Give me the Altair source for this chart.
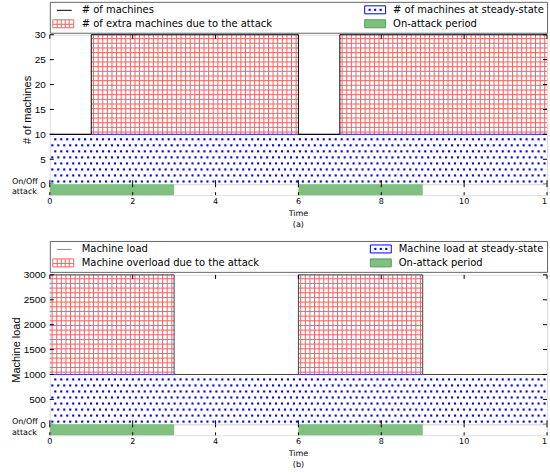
import altair as alt
import numpy as np
import pandas as pd

# ---------------- data ----------------
time_a = [0, 1, 6, 7, 12]
machines = [10, 30, 10, 30, 30]
machines_steady = 10
time_b = [0, 3, 6, 9, 12]
load = [3000, 1000, 3000, 1000, 1000]
load_steady = 1000
attack_start = [0, 6]
attack_end = [3, 9]
x_max = 12
x_ticks = [0, 2, 4, 6, 8, 10, 12]
y_max_a = 30
y_ticks_a = [0, 5, 10, 15, 20, 25, 30]
y_max_b = 3000
y_ticks_b = [0, 500, 1000, 1500, 2000, 2500, 3000]

legend_a = ["# of machines", "# of extra machines due to the attack",
            "# of machines at steady-state", "On-attack period"]
legend_b = ["Machine load", "Machine overload due to the attack",
            "Machine load at steady-state", "On-attack period"]
y_title_a = "# of machines"
y_title_b = "Machine load"
x_title = "Time"
sub_a = "(a)"
sub_b = "(b)"
strip_label = ["On/Off", "attack"]

# ---------------- style ----------------
FONT = "DejaVu Sans"
W, H, SH, LH, TH = 499, 150, 11, 31, 34
FS = 8
RED = "#f06262"
BLUE = "#0000ff"
GREEN = "#7fbf7f"


def xscale():
    return alt.Scale(domain=[0, x_max], nice=False, zero=False)


def main_panel(times, values, steady, y_max, y_ticks, y_title, title_x, line_color):
    xs = xscale()
    ys = alt.Scale(domain=[0, y_max], nice=False, zero=False)
    yaxis = alt.Axis(values=y_ticks, ticks=False, domain=False, grid=False, format="d",
                     labelPadding=4.5, labelFontWeight="normal",
                     titleFontWeight="normal", titleX=title_x, titleY=H / 2,
                     titleAngle=270, titleAlign="center", titleBaseline="middle")

    def X(f):
        return alt.X(f, type="quantitative", scale=xs, axis=None)

    def Y(f):
        return alt.Y(f, type="quantitative", scale=ys, axis=yaxis, title=y_title)

    # dotted hatch (style) below steady state
    rows = np.arange(steady * 0.054, steady, steady * 0.121)
    pts = []
    for i, ry in enumerate(rows):
        off = 0.06 + (i % 2) * 0.072
        for cx in np.arange(off, x_max, 0.144):
            pts.append((cx, ry))
    dots_df = pd.DataFrame(pts, columns=["dx", "dy"])

    # grid hatch (style) for the extra part
    vl, hl = [], []
    for t0, t1, v in zip(times[:-1], times[1:], values[:-1]):
        if v > steady:
            for cx in np.arange(t0 + 1 / 18, t1, 1 / 9):
                vl.append((cx, steady, v))
            for cy in np.arange(steady + y_max / 64, v, y_max / 32):
                hl.append((cy, t0, t1))
    vl_df = pd.DataFrame(vl, columns=["hx", "hy0", "hy1"])
    hl_df = pd.DataFrame(hl, columns=["vy", "vx0", "vx1"])

    series_df = pd.DataFrame({"t": times, "v": values})
    steady_df = pd.DataFrame({"s": [steady], "s0": [0], "s1": [x_max]})
    yt_df = pd.DataFrame({"tick": y_ticks})
    xt_df = pd.DataFrame({"xt": x_ticks})

    dots = alt.Chart(dots_df).mark_square(size=4.5, color=BLUE, opacity=1).encode(
        x=X("dx"), y=Y("dy"))
    hv = alt.Chart(vl_df).mark_rule(color=RED, strokeWidth=1).encode(
        x=X("hx"), y=Y("hy0"), y2="hy1")
    hh = alt.Chart(hl_df).mark_rule(color=RED, strokeWidth=1).encode(
        y=Y("vy"), x=X("vx0"), x2="vx1")
    sline = alt.Chart(steady_df).mark_rule(color="#4040ff", strokeWidth=1.2).encode(
        y=Y("s"), x=X("s0"), x2="s1")
    line = alt.Chart(series_df).mark_line(interpolate="step-after", color=line_color,
                                           strokeWidth=1).encode(x=X("t"), y=Y("v"))
    tl = alt.Chart(yt_df).mark_rule(color="black").encode(
        y=Y("tick"), x=alt.value(0), x2=alt.value(4))
    tr = alt.Chart(yt_df).mark_rule(color="black").encode(
        y=Y("tick"), x=alt.value(W - 4), x2=alt.value(W))
    tb = alt.Chart(xt_df).mark_rule(color="black").encode(
        x=X("xt"), y=alt.value(H - 4), y2=alt.value(H))
    tt = alt.Chart(xt_df).mark_rule(color="black").encode(
        x=X("xt"), y=alt.value(0), y2=alt.value(4))
    return alt.layer(dots, hv, hh, sline, line, tl, tr, tb, tt).properties(width=W, height=H)


def strip_panel():
    xs = xscale()
    att_df = pd.DataFrame({"a0": attack_start, "a1": attack_end})
    xt_df = pd.DataFrame({"xt": x_ticks})

    def X(f):
        return alt.X(f, type="quantitative", scale=xs, axis=None)

    bars = alt.Chart(att_df).mark_rect(color=GREEN).encode(
        x=X("a0"), x2="a1", y=alt.value(0), y2=alt.value(SH))
    tb = alt.Chart(xt_df).mark_rule(color="black").encode(
        x=X("xt"), y=alt.value(SH - 3), y2=alt.value(SH))
    tt = alt.Chart(xt_df).mark_rule(color="black").encode(
        x=X("xt"), y=alt.value(0), y2=alt.value(3))
    lab = alt.Chart(pd.DataFrame({"k": [0]})).mark_text(
        text=strip_label, align="left", baseline="middle", font=FONT,
        fontSize=FS, fontWeight="normal", lineHeight=10.7, color="black").encode(
        x=alt.value(-38), y=alt.value(-2.4))
    return alt.layer(bars, tb, tt, lab).properties(width=W, height=SH)


def label_panel(sub):
    xs = xscale()
    xt_df = pd.DataFrame({"xt": x_ticks})
    X = alt.X("xt:Q", scale=xs, axis=None)
    style = dict(align="center", baseline="middle", font=FONT, fontSize=FS,
                 fontWeight="normal", color="black")
    inner = alt.Chart(xt_df).transform_filter(alt.datum.xt < x_max).mark_text(
        **style).encode(x=X, y=alt.value(6.8), text="xt:Q")
    # the last label sits on the figure's right edge and is cut there
    edge = alt.Chart(xt_df).transform_filter(alt.datum.xt >= x_max).mark_text(
        clip=True, **style).encode(x=X, y=alt.value(6.8), text="xt:Q")
    tdf = pd.DataFrame({"label": [x_title, sub], "row": [0, 1]})
    titles = alt.Chart(tdf).mark_text(**style).encode(
        x=alt.value(W / 2),
        y=alt.Y("row:Q", scale=alt.Scale(domain=[0, 1], range=[19, 29.8]), axis=None),
        text="label:N")
    return alt.layer(inner, edge, titles).properties(
        width=W, height=TH, view=alt.ViewBackground(stroke="transparent"))


def legend_panel(labels, line_color, rx):
    px = alt.X("x:Q", scale=None)
    py = alt.Y("y:Q", scale=None)
    r1, r2 = 8, 22
    one = pd.DataFrame({"k": [0]})
    text_df = pd.DataFrame({"x": [32, 32, rx + 28.5, rx + 28.5],
                            "y": [r1, r2, r1, r2], "label": labels})
    rect_df = pd.DataFrame({
        "x": [3, rx, rx], "x2": [24, rx + 21, rx + 21],
        "y": [r2 - 4, r1 - 4, r2 - 4], "y2": [r2 + 4, r1 + 4, r2 + 4],
        "fill": ["white", "white", GREEN],
        "stroke": [RED, BLUE, "#5a9a5a"]})
    hatch_df = pd.DataFrame({"x": [7.5, 11.5, 15.5, 19.5],
                             "y": [r2 - 4] * 4, "y2": [r2 + 4] * 4})
    dot_df = pd.DataFrame({"x": [rx + 5, rx + 10.5, rx + 16], "y": [r1] * 3})

    line = alt.Chart(one).mark_rule(color=line_color, strokeWidth=1).encode(
        x=alt.value(7), x2=alt.value(22), y=alt.value(r1 + 0.5))
    rects = alt.Chart(rect_df).mark_rect(strokeWidth=1).encode(
        x=px, x2="x2:Q", y=py, y2="y2:Q",
        fill=alt.Fill("fill:N", scale=None), stroke=alt.Stroke("stroke:N", scale=None))
    hv = alt.Chart(hatch_df).mark_rule(color=RED, strokeWidth=1).encode(
        x=px, y=py, y2="y2:Q")
    hh = alt.Chart(one).mark_rule(color=RED, strokeWidth=1).encode(
        x=alt.value(3), x2=alt.value(24), y=alt.value(r2 + 0.5))
    dots = alt.Chart(dot_df).mark_square(size=4.5, color=BLUE, opacity=1).encode(x=px, y=py)
    texts = alt.Chart(text_df).mark_text(align="left", baseline="middle", font=FONT,
                                         fontSize=10, fontWeight="normal",
                                         color="black").encode(
        x=px, y=py, text="label:N")
    return alt.layer(rects, hv, hh, dots, line, texts).properties(
        width=W, height=LH, view=alt.ViewBackground(stroke="#666666", strokeWidth=1))


def spacer(h):
    return alt.Chart(pd.DataFrame({"v": [0]})).mark_point(opacity=0, size=1).encode(
        x=alt.value(1), y=alt.value(1)).properties(
        width=W, height=h, view=alt.ViewBackground(stroke="transparent"))


chart = alt.vconcat(
    legend_panel(legend_a, "black", 316),
    spacer(2),
    main_panel(time_a, machines, machines_steady, y_max_a, y_ticks_a, y_title_a, -22, "black"),
    strip_panel(),
    label_panel(sub_a),
    spacer(12),
    legend_panel(legend_b, "#8a8a8a", 321.7),
    spacer(3),
    main_panel(time_b, load, load_steady, y_max_b, y_ticks_b, y_title_b, -33.3, "#444444"),
    strip_panel(),
    label_panel(sub_b),
    spacing=0, bounds="flush",
).resolve_scale(x="independent", y="independent").properties(
    padding={"left": 10, "top": 0, "right": 0, "bottom": 0}
).configure_view(stroke="black", strokeWidth=1, fill="white").configure_axis(
    labelFont=FONT, titleFont=FONT, labelFontSize=FS, titleFontSize=FS,
    labelColor="black", titleColor="black", titleFontWeight="normal"
).configure(background="white")

chart.save("out.html", embed_options={"renderer": "svg", "actions": False})
